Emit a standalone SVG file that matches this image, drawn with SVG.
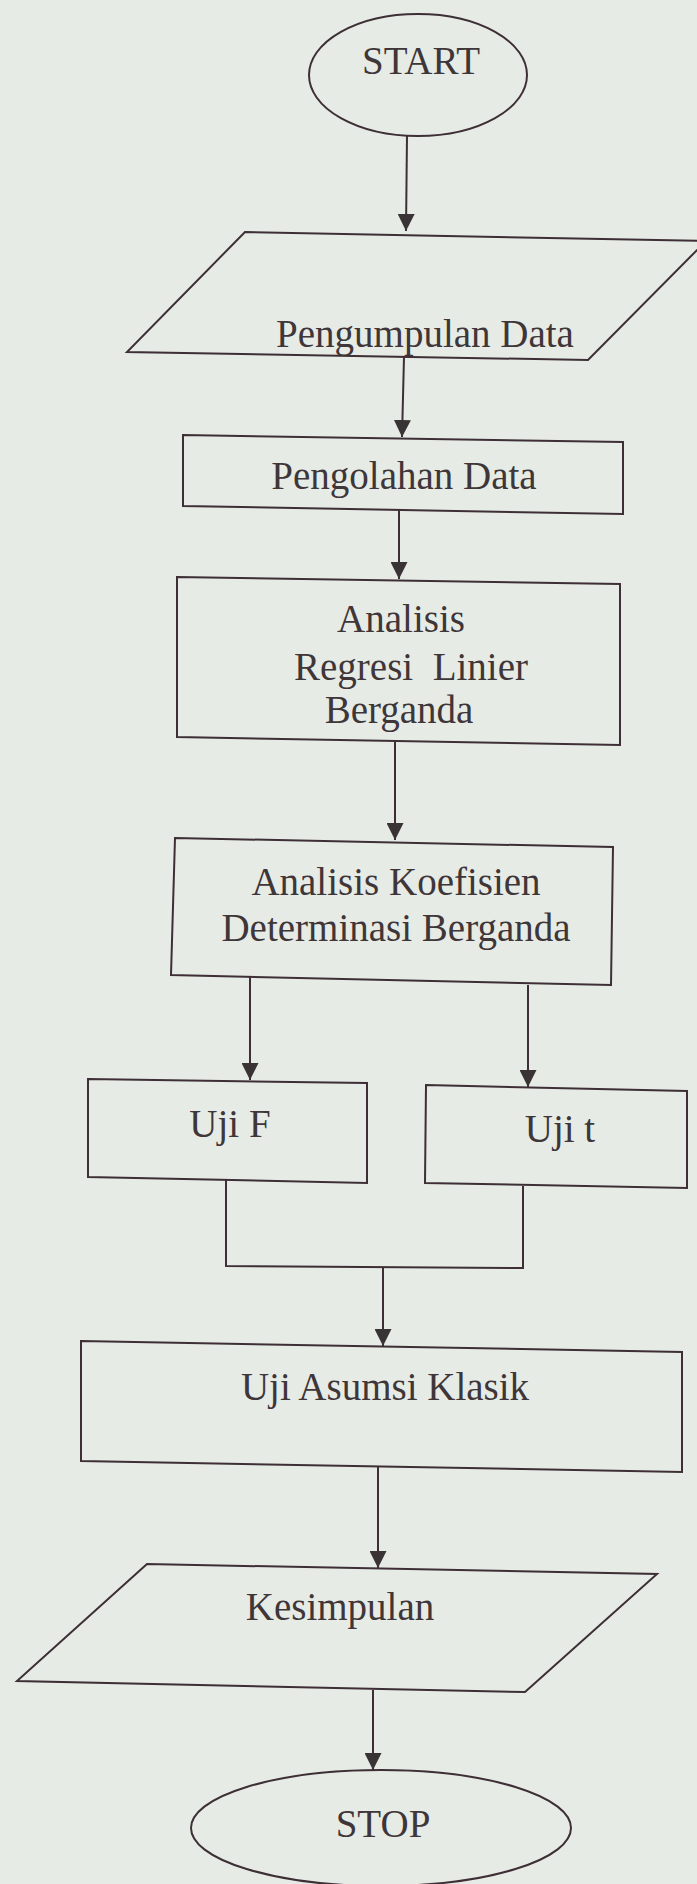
<svg xmlns="http://www.w3.org/2000/svg" width="697" height="1884" viewBox="0 0 697 1884">
<style>
  .shape { fill: none; stroke: #3d2f35; stroke-width: 2; }
  .conn { fill: none; stroke: #3d2f35; stroke-width: 2; }
  text { font-family: "Liberation Serif", "Times New Roman", serif; font-size: 39px; fill: #3e3638; text-anchor: middle; }
</style>
<defs>
  <marker id="arrow" markerUnits="userSpaceOnUse" markerWidth="17" markerHeight="17" viewBox="0 0 17 17" refX="17" refY="8.5" orient="auto">
    <path d="M0,0 L17,8.5 L0,17 z" fill="#3a3335"/>
  </marker>
</defs>
<rect x="0" y="0" width="697" height="1884" fill="#e7ebe6"/>

<g id="connectors">
  <line class="conn" x1="407" y1="135" x2="406" y2="231" marker-end="url(#arrow)"/>
  <line class="conn" x1="404" y1="357" x2="402" y2="437" marker-end="url(#arrow)"/>
  <line class="conn" x1="399" y1="510" x2="399" y2="579" marker-end="url(#arrow)"/>
  <line class="conn" x1="395" y1="742" x2="395" y2="840" marker-end="url(#arrow)"/>
  <line class="conn" x1="250" y1="977" x2="250" y2="1080" marker-end="url(#arrow)"/>
  <line class="conn" x1="528" y1="985" x2="528" y2="1087" marker-end="url(#arrow)"/>
  <polyline class="conn" points="226,1180 226,1266 523,1268 523,1186"/>
  <line class="conn" x1="383" y1="1267" x2="383" y2="1346" marker-end="url(#arrow)"/>
  <line class="conn" x1="378" y1="1466" x2="378" y2="1568" marker-end="url(#arrow)"/>
  <line class="conn" x1="373" y1="1690" x2="373" y2="1770" marker-end="url(#arrow)"/>
</g>

<g id="start">
  <ellipse class="shape" cx="418" cy="75" rx="109" ry="61"/>
  <text x="421" y="74" font-size="32">START</text>
</g>

<g id="pengumpulan-data">
  <polygon class="shape" points="245,232 706,241 588,360 127,352"/>
  <text x="425" y="347">Pengumpulan Data</text>
</g>

<g id="pengolahan-data">
  <polygon class="shape" points="183,435 623,442 623,514 183,506"/>
  <text x="404" y="489">Pengolahan Data</text>
</g>

<g id="analisis-regresi">
  <polygon class="shape" points="177,577 620,584 620,745 177,737"/>
  <text x="401" y="632">Analisis</text>
  <text x="411" y="680" xml:space="preserve">Regresi  Linier</text>
  <text x="399" y="723">Berganda</text>
</g>

<g id="analisis-koefisien">
  <polygon class="shape" points="175,838 613,847 611,985 171,975"/>
  <text x="396" y="895">Analisis Koefisien</text>
  <text x="396" y="941">Determinasi Berganda</text>
</g>

<g id="uji-f">
  <polygon class="shape" points="88,1079 367,1083 367,1183 88,1177"/>
  <text x="230" y="1137">Uji F</text>
</g>

<g id="uji-t">
  <polygon class="shape" points="426,1085 687,1091 687,1188 425,1183"/>
  <text x="560" y="1142">Uji t</text>
</g>

<g id="uji-asumsi-klasik">
  <polygon class="shape" points="81,1341 682,1352 682,1472 81,1461"/>
  <text x="385" y="1400">Uji Asumsi Klasik</text>
</g>

<g id="kesimpulan">
  <polygon class="shape" points="147,1564 657,1574 525,1692 17,1681"/>
  <text x="340" y="1620">Kesimpulan</text>
</g>

<g id="stop">
  <ellipse class="shape" cx="381" cy="1828" rx="190" ry="58"/>
  <text x="383" y="1837" font-size="38">STOP</text>
</g>
</svg>
